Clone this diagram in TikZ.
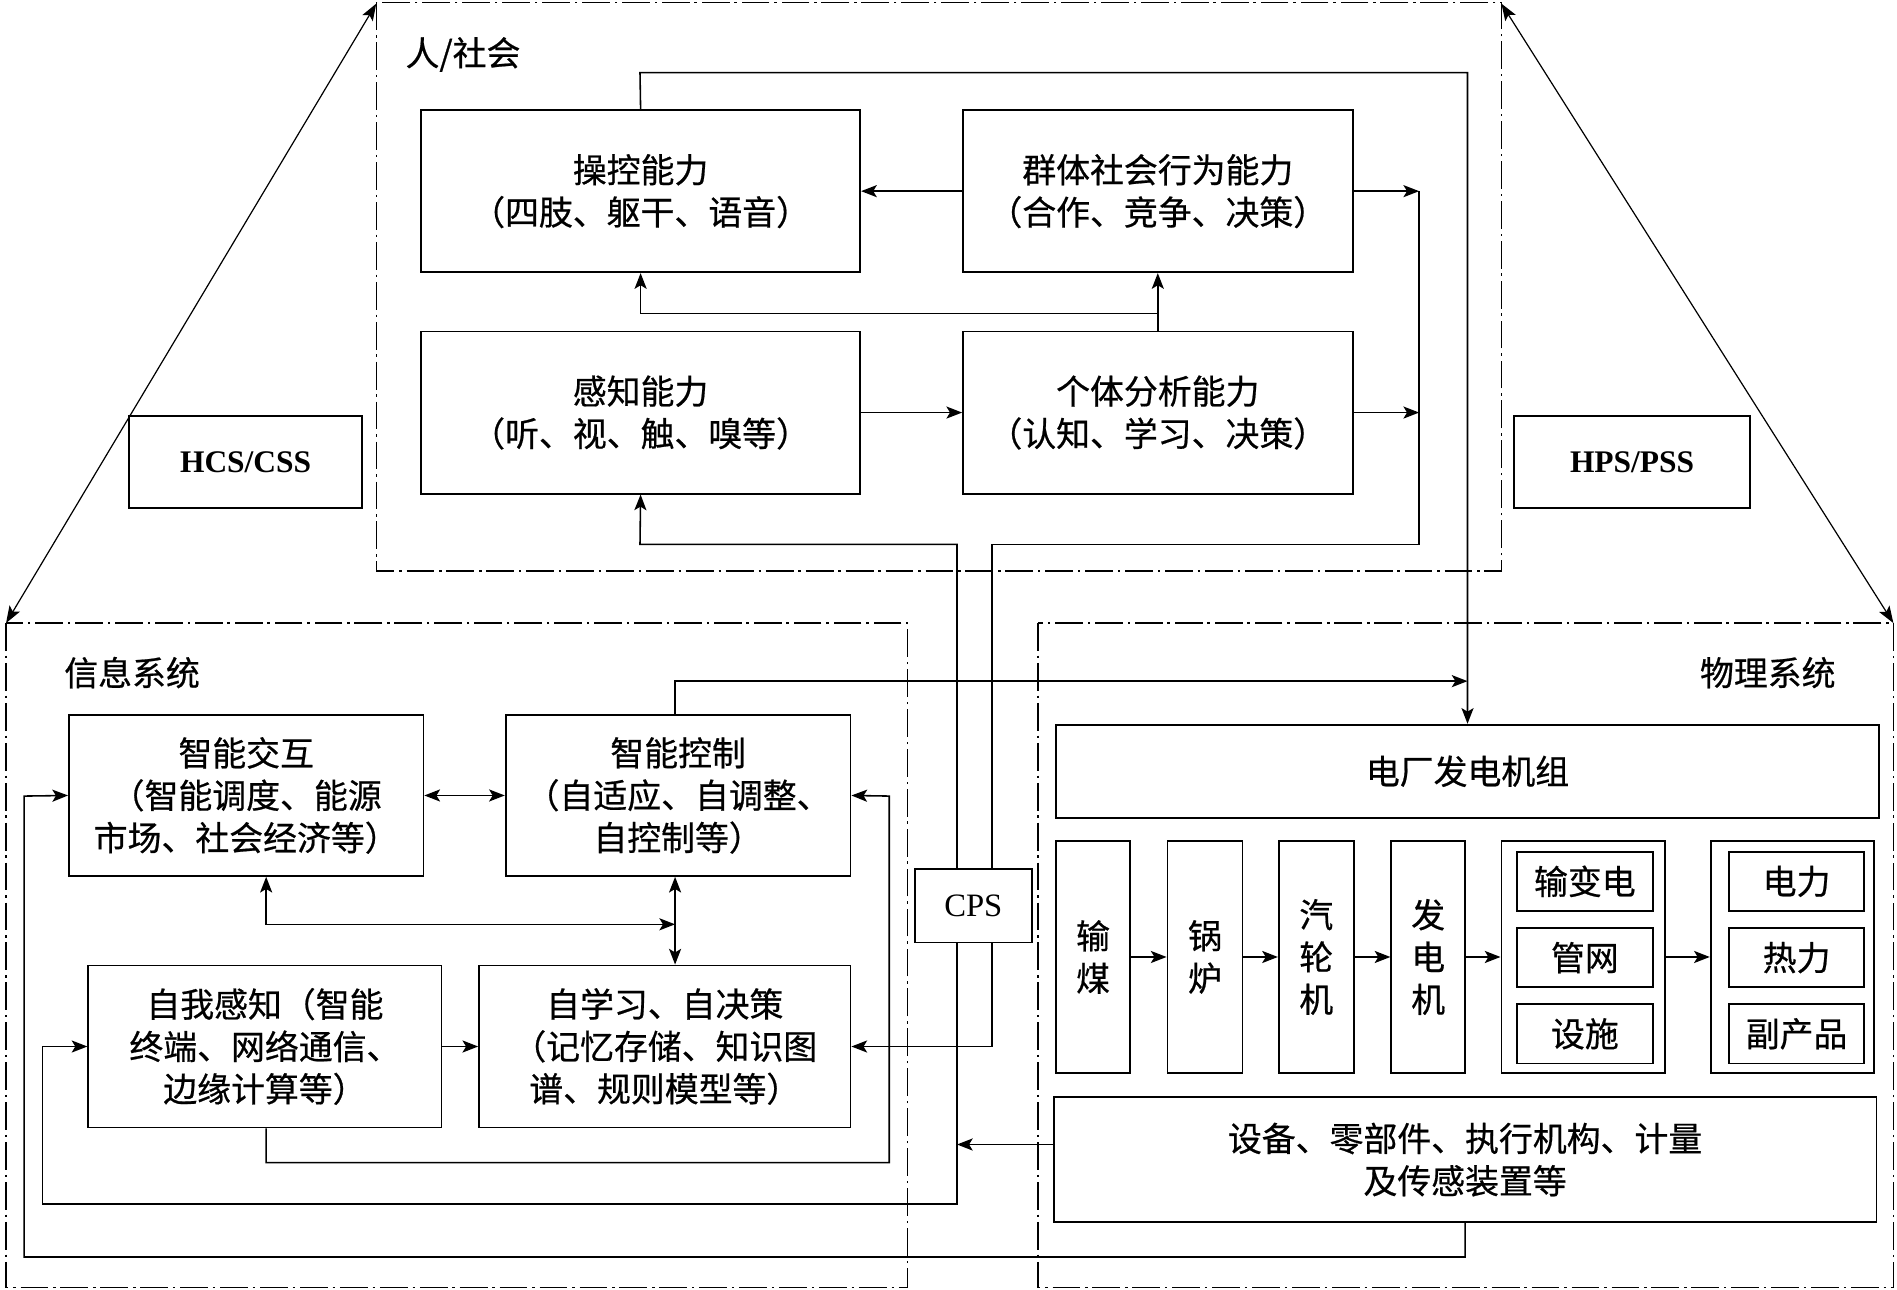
\documentclass[tikz,border=0pt]{standalone}
\usepackage{fontspec}
\setmainfont{Liberation Serif}
\newfontfamily\cjk{Noto Sans CJK SC}[FakeBold=0.6]
\usetikzlibrary{arrows.meta}
\newcommand\zhfont{\cjk\fontsize{28}{35}\selectfont}
\newcommand\bx[6]{\node[box,minimum width={(#4-#2)*1pt},minimum height={(#5-#3)*1pt}] (#1) at ({(#2+#4)/2},{(#3+#5)/2}) {#6};}
\begin{document}
\begin{tikzpicture}[x=1pt,y=-1pt,
  box/.style={draw,line width=1.5pt,inner sep=0pt,align=center,font=\zhfont},
  latinbox/.style={draw,line width=1.5pt,inner sep=0pt,font=\fontsize{26}{30}\selectfont},
  conn/.style={line width=1.3pt,-{Stealth[length=13pt,width=10pt,inset=3pt]}},
  dconn/.style={line width=1.3pt,{Stealth[length=13pt,width=10pt,inset=3pt]}-{Stealth[length=13pt,width=10pt,inset=3pt]}},
  plain/.style={line width=1.3pt},
  region/.style={line width=1.1pt,dash pattern=on 23pt off 4pt on 2pt off 4pt},
  diag/.style={line width=1pt,{Stealth[length=14pt,width=10pt,inset=3pt]}-{Stealth[length=14pt,width=10pt,inset=3pt]}},
  title/.style={font=\zhfont,inner sep=0pt,anchor=west}]
\useasboundingbox (0,0) rectangle (1568,1066);

% regions
\draw[region] (311,2) rectangle (1241,472);
\draw[region] (5,515) rectangle (750,1064);
\draw[region] (858,515) rectangle (1565,1064);
\node[title] (trh) at (335,45) {人/社会};
\node[title] (tinfo) at (53,556) {信息系统};
\node[title] (tphys) at (1405,556) {物理系统};

% human/society
\bx{ck}{348}{91}{711}{225}{操控能力\\（四肢、躯干、语音）}
\bx{qt}{796}{91}{1118}{225}{群体社会行为能力\\（合作、竞争、决策）}
\bx{gz}{348}{274}{711}{408}{感知能力\\（听、视、触、嗅等）}
\bx{gt}{796}{274}{1118}{408}{个体分析能力\\（认知、学习、决策）}

% side boxes
\node[latinbox,font=\bfseries\fontsize{26}{30}\selectfont,minimum width=193pt,minimum height=76pt] (hcs) at (203,382) {HCS/CSS};
\node[latinbox,font=\bfseries\fontsize{26}{30}\selectfont,minimum width=195pt,minimum height=76pt] (hps) at (1349,382) {HPS/PSS};

% info system
\bx{zj}{57}{591}{350}{724}{智能交互\\（智能调度、能源\\市场、社会经济等）}
\bx{zk}{418}{591}{703}{724}{智能控制\\（自适应、自调整、\\自控制等）}
\bx{zw}{73}{798}{365}{932}{自我感知（智能\\终端、网络通信、\\边缘计算等）}
\bx{zx}{396}{798}{703}{932}{自学习、自决策\\（记忆存储、知识图\\谱、规则模型等）}
\node[latinbox,font=\fontsize{27}{30}\selectfont,minimum width=97pt,minimum height=61pt] (cps) at (804.5,748.5) {CPS};

% physical system
\bx{dc}{873}{599}{1553}{676}{电厂发电机组}
\bx{sm}{873}{695}{934}{887}{输\\煤}
\bx{gl}{965}{695}{1027}{887}{锅\\炉}
\bx{ql}{1057}{695}{1119}{887}{汽\\轮\\机}
\bx{fd}{1150}{695}{1211}{887}{发\\电\\机}
\bx{ga}{1241}{695}{1376}{887}{}
\bx{gb}{1414}{695}{1549}{887}{}
\bx{ia}{1254}{704}{1366}{753}{输变电}
\bx{ib}{1254}{767}{1366}{816}{管网}
\bx{ic}{1254}{830}{1366}{879}{设施}
\bx{ja}{1429}{704}{1541}{753}{电力}
\bx{jb}{1429}{767}{1541}{816}{热力}
\bx{jc}{1429}{830}{1541}{879}{副产品}
\bx{sb}{871}{907}{1551}{1010}{设备、零部件、执行机构、计量\\及传感装置等}

% coordinates
\coordinate (rA) at (1173,158);
\coordinate (rB) at (1173,341);
\coordinate (jQ) at (957,259);
\coordinate (jL) at (1213,563);
\coordinate (jM) at (558,764);
\coordinate (jS) at (791,946);

% human/society connectors
\draw[conn] (qt.west) -- (ck.east);
\draw[conn] (gz.east) -- (gt.east -| gt.west);
\draw[conn] (qt.east) -- (rA);
\draw[conn] (gt.east) -- (rB);
\draw[conn] (gt.north) -- (qt.south);
\draw[conn] (jQ) -| (ck.south);
\draw[conn] (ck.north) -- (529,60) -- (1213,60) -- (dc.north -| jL);
\draw[conn] (zk.north -| jM) -- (558,563) -- (jL);

% CPS links
\draw[plain] (rA) -- (1173,450) -- (820,450) -- (cps.north -| 820,0);
\draw[conn] (cps.south -| 820,0) -- (820,865) -- (zx.east);
\draw[conn] (cps.north -| jS) -- (791,450) -- (529,450) -- (gz.south);
\draw[plain] (cps.south -| jS) -- (791,995) -- (35,995) -- (35,865);
\draw[conn] (35,865) -- (zw.west);
\draw[conn] (sb.west |- jS) -- (jS);

% info system connectors
\draw[dconn] (zj.east) -- (zk.west);
\draw[dconn] (zk.south -| jM) -- (zx.north -| jM);
\draw[dconn] (zj.south -| 220,0) -- (220,764) -- (jM);
\draw[conn] (zw.south -| 220,0) -- (220,961) -- (735,961) -- (735,658) -- (zk.east);
\draw[conn] (sb.south -| 1211,0) -- (1211,1039) -- (20,1039) -- (20,658) -- (zj.west);
\draw[conn] (zw.east) -- (zx.west);

% physical chain
\draw[conn] (sm.east) -- (gl.west);
\draw[conn] (gl.east) -- (ql.west);
\draw[conn] (ql.east) -- (fd.west);
\draw[conn] (fd.east) -- (ga.west);
\draw[conn] (ga.east) -- (gb.west);

% diagonals
\draw[diag] (5,515) -- (311,3);
\draw[diag] (1241,3) -- (1565,515);
\end{tikzpicture}
\end{document}
